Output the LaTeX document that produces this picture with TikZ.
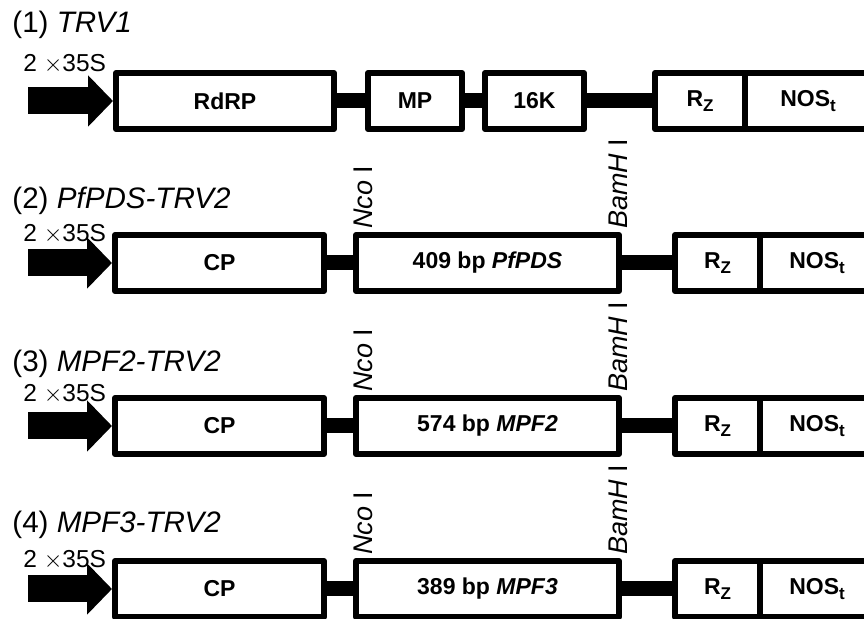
\documentclass[tikz,border=0pt]{standalone}
\usepackage{fontspec}
\setmainfont{Liberation Sans}
\usetikzlibrary{
    positioning,
    arrows.meta
}
\newcommand{\lowsub}[1]{\raisebox{-0.45ex}{\fontsize{8.5}{10}\selectfont #1}}
\tikzset{
    >=Stealth,
    gen/.style={
        draw,
        fill=white,
        line width=3pt,
        line join=round,
        inner sep=0pt,
        minimum height=28pt,
        font=\fontsize{11.5}{13}\selectfont\bfseries
    },
    enlace/.style={line width=7.5pt},
    promotor/.style={
        line width=13.5pt,
        -{Triangle[length=12.5pt, width=25pt]}
    },
    titulo/.style={anchor=base west, inner sep=0pt, font=\fontsize{14.8}{17}\selectfont},
    sitio/.style={anchor=base west, rotate=90, inner sep=0pt, font=\fontsize{13.5}{16}\selectfont},
    etiq/.style={anchor=base west, inner sep=0pt, font=\fontsize{12.25}{14}\selectfont}
}

\begin{document}
\begin{tikzpicture}[
    x=0.5pt,
    y=-0.5pt
]

    \clip (0,0) rectangle (864,619);

    % (1) TRV1
    \node[titulo] (t1) at (12,33) {(1) \textit{TRV1}};
    \coordinate (p1) at (28,101);
    \node[gen, minimum width=109pt]  (rdrp1) at (225,101)   {RdRP};
    \node[gen, minimum width=47pt]   (mp1)   at (415,101)   {MP};
    \node[gen, minimum width=49.5pt] (k16a)  at (534.5,101) {16K};
    \node[gen, minimum width=45pt]   (rz1)   at (700,101)   {R\lowsub{Z}};
    \node[gen, minimum width=63pt]   (nos1)  at (808,101)   {NOS\lowsub{t}};

    % (2) PfPDS-TRV2
    \node[titulo] (t2) at (12,209) {(2) \textit{PfPDS-TRV2}};
    \coordinate (p2) at (28,263);
    \node[gen, minimum width=104.5pt] (cp2)  at (219.5,263) {CP};
    \node[gen, minimum width=131.5pt] (ins2) at (487.5,263) {409 bp \textit{PfPDS}};
    \node[gen, minimum width=42.5pt]  (rz2)  at (717.5,263) {R\lowsub{Z}};
    \node[gen, minimum width=57pt]    (nos2) at (817,263)   {NOS\lowsub{t}};
    \node[sitio] (nco2) at (372,229) {\textit{Nco} I};
    \node[sitio] (bam2) at (627,229) {\textit{BamH} I};

    % (3) MPF2-TRV2
    \node[titulo] (t3) at (12,372) {(3) \textit{MPF2-TRV2}};
    \coordinate (p3) at (28,426);
    \node[gen, minimum width=104.5pt] (cp3)  at (219.5,426) {CP};
    \node[gen, minimum width=131.5pt] (ins3) at (487.5,426) {574 bp \textit{MPF2}};
    \node[gen, minimum width=42.5pt]  (rz3)  at (717.5,426) {R\lowsub{Z}};
    \node[gen, minimum width=57pt]    (nos3) at (817,426)   {NOS\lowsub{t}};
    \node[sitio] (nco3) at (372,392) {\textit{Nco} I};
    \node[sitio] (bam3) at (627,392) {\textit{BamH} I};

    % (4) MPF3-TRV2
    \node[titulo] (t4) at (12,533) {(4) \textit{MPF3-TRV2}};
    \coordinate (p4) at (28,589);
    \node[gen, minimum width=104.5pt] (cp4)  at (219.5,589) {CP};
    \node[gen, minimum width=131.5pt] (ins4) at (487.5,589) {389 bp \textit{MPF3}};
    \node[gen, minimum width=42.5pt]  (rz4)  at (717.5,589) {R\lowsub{Z}};
    \node[gen, minimum width=57pt]    (nos4) at (817,589)   {NOS\lowsub{t}};
    \node[sitio] (nco4) at (372,555) {\textit{Nco} I};
    \node[sitio] (bam4) at (627,555) {\textit{BamH} I};

    % Uniones
    \path[enlace]
        (rdrp1) edge (mp1)
        (mp1)   edge (k16a)
        (k16a)  edge (rz1)
        (cp2)   edge (ins2)
        (ins2)  edge (rz2)
        (cp3)   edge (ins3)
        (ins3)  edge (rz3)
        (cp4)   edge (ins4)
        (ins4)  edge (rz4);

    % Promotores
    \path[promotor]
        (p1) edge (rdrp1)
        (p2) edge (cp2)
        (p3) edge (cp3)
        (p4) edge (cp4);

    \node[etiq] (s1) at (23,72)  {2 $\times$35S};
    \node[etiq] (s2) at (23,242) {2 $\times$35S};
    \node[etiq] (s3) at (23,402) {2 $\times$35S};
    \node[etiq] (s4) at (23,568) {2 $\times$35S};

\end{tikzpicture}
\end{document}
